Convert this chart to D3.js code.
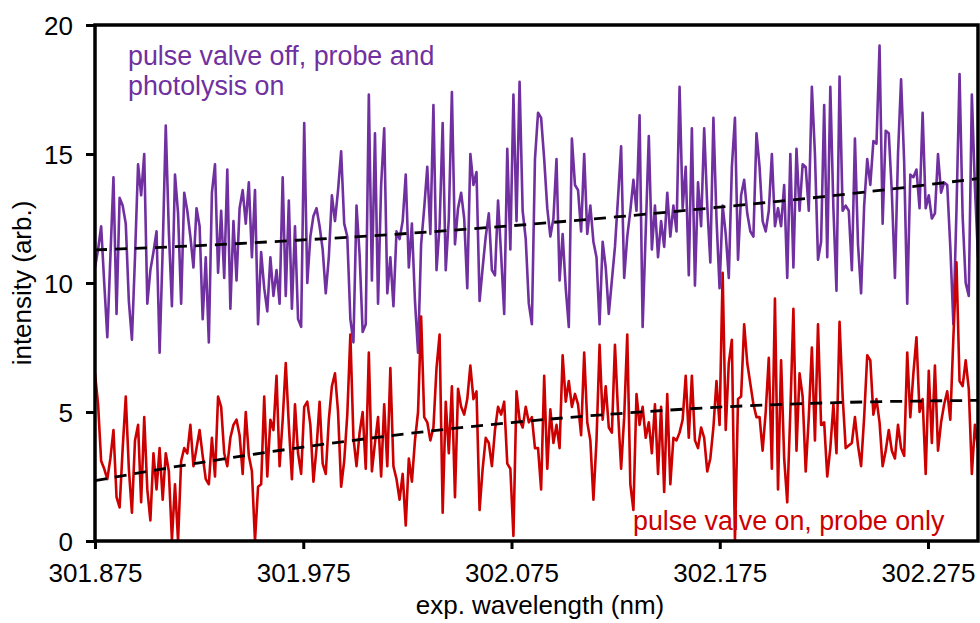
<!DOCTYPE html>
<html>
<head>
<meta charset="utf-8">
<script src="https://cdn.jsdelivr.net/npm/d3@7"></script>
<style>
  html, body { margin: 0; padding: 0; background: #fff; }
  svg text { font-family: "Liberation Sans", Arial, sans-serif; }
</style>
</head>
<body>
<svg id="chart" width="980" height="623"></svg>
<script>
// ---- data ----
const wlStart = 301.875;   // first sample wavelength (nm)
const wlEnd = 302.299;     // last sample wavelength (nm)

const purpleValues = [
  10.6,11.3,12.2,10.0,7.9,11.0,14.1,8.8,13.3,13.0,12.3,9.3,7.8,11.0,14.6,13.4,15.0,9.2,10.5,11.2,12.0,7.3,11.3,16.1,12.0,9.1,14.2,12.7,9.2,13.5,12.8,11.8,10.6,12.9,12.2,8.6,
  11.0,7.7,13.5,14.6,10.4,12.8,10.2,14.4,9.0,12.4,10.1,12.9,13.6,12.3,13.9,11.0,13.6,8.4,11.2,9.8,8.9,11.0,9.5,10.5,9.2,14.1,9.5,13.2,9.0,12.2,8.6,8.3,16.2,10.0,11.8,12.6,
  12.9,12.2,11.3,9.6,11.0,13.4,12.4,13.6,15.1,12.3,11.8,8.6,7.7,13.0,11.1,8.1,8.4,17.3,10.1,15.8,9.2,13.8,16.0,9.6,11.0,9.1,12.0,11.7,12.4,14.2,10.6,12.3,9.3,7.3,11.5,12.9,
  14.5,11.9,16.9,10.5,12.2,16.2,10.5,12.5,17.4,11.5,12.9,13.5,12.5,9.8,15.0,13.8,14.3,9.3,10.6,11.8,12.7,10.5,10.3,13.2,11.1,8.8,15.2,11.3,17.3,12.4,17.8,12.8,11.7,9.2,8.4,14.8,
  16.6,16.4,14.8,12.9,11.8,12.5,14.8,10.1,11.9,9.8,8.3,15.6,13.8,13.6,12.0,15.0,11.9,13.0,11.6,11.0,8.4,11.6,10.6,8.8,10.1,11.4,13.3,15.3,10.2,11.8,12.8,14.0,12.8,16.5,8.3,12.0,
  15.7,11.3,13.0,11.0,12.4,11.4,13.5,11.8,13.0,12.0,17.6,12.9,14.5,10.3,16.0,9.9,13.9,12.2,16.0,13.0,10.8,16.4,12.5,9.8,13.0,11.9,10.2,14.5,16.4,10.9,13.4,14.0,12.7,12.0,11.8,15.8,
  14.5,12.4,12.0,12.8,15.0,12.2,12.9,12.2,13.8,10.2,15.0,10.6,15.2,12.8,14.6,14.5,12.8,17.6,15.0,10.9,11.6,16.9,11.0,17.6,12.9,9.7,18.0,12.8,13.0,12.8,10.5,15.6,11.5,9.6,13.0,14.8,
  13.8,15.5,15.4,19.2,12.3,15.9,15.8,13.5,10.2,15.0,17.9,14.7,9.2,14.2,14.1,14.4,12.9,16.6,12.9,13.4,12.5,12.7,15.0,13.5,13.9,13.8,11.4,8.4,12.8,18.1,12.6,10.0,9.5,17.3,13.7,11.0
];

const redValues = [
  6.5,5.3,3.1,2.8,2.4,3.2,4.3,1.7,1.3,3.6,5.6,2.8,1.1,3.9,4.5,1.5,4.8,2.0,0.8,3.4,2.0,3.6,1.6,3.4,2.7,0.05,2.2,0.0,3.1,3.6,3.4,4.5,2.9,3.6,4.3,3.3,
  2.4,2.2,4.0,2.5,5.6,5.2,3.4,2.9,4.0,4.5,4.7,4.1,2.6,5.0,3.3,2.7,0.0,2.1,2.2,5.6,2.5,4.7,4.3,6.4,2.9,4.7,6.9,4.5,2.4,5.3,3.4,2.6,5.2,5.4,4.5,2.3,
  3.6,5.4,3.0,2.6,4.7,6.0,6.5,5.0,2.1,3.1,4.9,8.0,4.0,2.9,4.2,5.0,2.8,7.3,2.7,3.8,4.8,2.5,5.3,2.9,6.7,2.9,2.4,1.6,2.6,0.6,3.2,2.3,3.9,5.0,8.7,4.8,
  4.6,3.9,4.4,6.7,8.0,1.1,5.4,3.4,6.0,1.7,5.9,5.2,4.9,5.5,6.8,5.5,5.8,1.2,2.8,4.0,3.8,2.9,4.3,5.2,4.9,5.4,3.0,2.8,0.2,5.8,4.7,4.4,5.2,4.6,4.8,3.6,
  3.6,2.0,6.4,2.8,5.1,3.8,4.5,3.6,7.2,5.4,6.2,5.2,5.7,5.3,4.1,7.3,4.6,3.9,1.6,3.9,7.6,4.7,6.0,4.4,4.2,7.6,5.0,2.8,4.8,8.0,2.2,1.2,5.7,4.5,5.2,4.0,
  4.6,3.4,5.3,2.6,5.2,1.9,5.7,2.2,4.0,3.9,4.2,4.7,6.4,4.0,6.4,3.9,3.6,4.4,4.0,2.7,3.2,4.4,6.2,4.5,10.4,4.3,6.9,7.8,0.0,5.5,5.6,8.4,6.9,6.1,5.3,4.8,
  4.8,3.5,5.0,7.1,2.8,9.4,2.0,7.0,3.2,1.5,5.0,9.0,3.5,6.5,5.6,2.7,4.8,7.5,3.9,8.4,4.5,4.6,2.5,3.6,5.3,3.4,8.5,5.6,3.6,3.7,3.8,4.8,3.7,2.9,4.8,7.2,
  7.0,4.9,5.5,4.6,2.9,3.5,4.3,3.5,3.2,4.5,3.6,3.3,7.3,4.8,6.5,7.9,5.0,5.5,2.6,6.6,3.8,6.8,3.5,4.6,5.3,5.8,4.7,7.9,10.8,6.2,6.0,7.0,5.9,2.6,4.5,3.6
];

// trend (fit) curves read at nodes
const trendWl     = [301.875, 301.925, 301.975, 302.025, 302.075, 302.125, 302.175, 302.225, 302.275, 302.299];
const purpleTrend = [11.28, 11.45, 11.67, 11.92, 12.22, 12.56, 12.94, 13.35, 13.81, 14.05];
const redTrend    = [2.34, 3.03, 3.64, 4.16, 4.59, 4.93, 5.19, 5.35, 5.43, 5.45];

const xTicks = [301.875, 301.975, 302.075, 302.175, 302.275];
const yTicks = [0, 5, 10, 15, 20];

const purpleLabel = ["pulse valve off, probe and", "photolysis on"];
const redLabel = "pulse valve on, probe only";
const xTitle = "exp. wavelength (nm)";
const yTitle = "intensity (arb.)";

// ---- drawing ----
const svg = d3.select("#chart");
const L = 95, R = 978, T = 25, B = 541;
const PURPLE = "#7030A0", RED = "#CC0000";
const FS = 26, FSA = 26.8;

const x = d3.scaleLinear().domain([wlStart, wlEnd]).range([L, R]);
const y = d3.scaleLinear().domain([0, 20]).range([B, T]);

const n = purpleValues.length;
const step = (wlEnd - wlStart) / (n - 1);
const purple = purpleValues.map((v, i) => [wlStart + i * step, v]);
const red = redValues.map((v, i) => [wlStart + i * step, v]);

svg.append("defs").append("clipPath").attr("id", "plotclip")
  .append("rect").attr("x", L).attr("y", T).attr("width", R - L).attr("height", B - T);

const line = d3.line().x(d => x(d[0])).y(d => y(d[1]));
const g = svg.append("g").attr("clip-path", "url(#plotclip)");

g.append("path").datum(purple).attr("d", line)
  .attr("fill", "none").attr("stroke", PURPLE).attr("stroke-width", 2.6).attr("stroke-linejoin", "round");
g.append("path").datum(red).attr("d", line)
  .attr("fill", "none").attr("stroke", RED).attr("stroke-width", 2.6).attr("stroke-linejoin", "round");

const tline = d3.line().x(d => x(d[0])).y(d => y(d[1])).curve(d3.curveMonotoneX);
[purpleTrend, redTrend].forEach(arr => {
  g.append("path").datum(trendWl.map((w, i) => [w, arr[i]])).attr("d", tline)
    .attr("fill", "none").attr("stroke", "#000").attr("stroke-width", 2.8)
    .attr("stroke-dasharray", "12,8");
});

// axes
const xAxis = d3.axisBottom(x).tickValues(xTicks).tickFormat(d3.format(".3f")).tickSize(8).tickSizeOuter(0);
const yAxis = d3.axisLeft(y).tickValues(yTicks).tickFormat(d3.format("d")).tickSize(9).tickSizeOuter(0);

const gx = svg.append("g").attr("transform", `translate(0,${B})`).call(xAxis);
const gy = svg.append("g").attr("transform", `translate(${L},0)`).call(yAxis);
[gx, gy].forEach(a => {
  a.select(".domain").remove();
  a.selectAll(".tick line").attr("stroke", "#000").attr("stroke-width", 3);
  a.selectAll(".tick text").attr("fill", "#000").style("font-size", FS + "px")
    .style("font-family", '"Liberation Sans", Arial, sans-serif');
});
gx.selectAll(".tick text").attr("y", 0).attr("dy", 0).attr("transform", "translate(0,41)");
gy.selectAll(".tick text").attr("x", -22).attr("dy", "0.36em");

// frame
svg.append("rect").attr("x", L).attr("y", T).attr("width", R - L).attr("height", B - T)
  .attr("fill", "none").attr("stroke", "#000").attr("stroke-width", 3.5);

// titles
svg.append("text").attr("x", 540).attr("y", 614).attr("text-anchor", "middle")
  .style("font-size", FS + "px").attr("fill", "#000").text(xTitle);
svg.append("text").attr("transform", "translate(31,283) rotate(-90)").attr("text-anchor", "middle")
  .style("font-size", FS + "px").attr("fill", "#000").text(yTitle);

// annotations
purpleLabel.forEach((t, i) => {
  svg.append("text").attr("x", 128).attr("y", 65 + i * 30)
    .style("font-size", FSA + "px").attr("fill", PURPLE).text(t);
});
svg.append("text").attr("x", 633).attr("y", 530)
  .style("font-size", FSA + "px").attr("fill", RED).text(redLabel);
</script>
</body>
</html>
